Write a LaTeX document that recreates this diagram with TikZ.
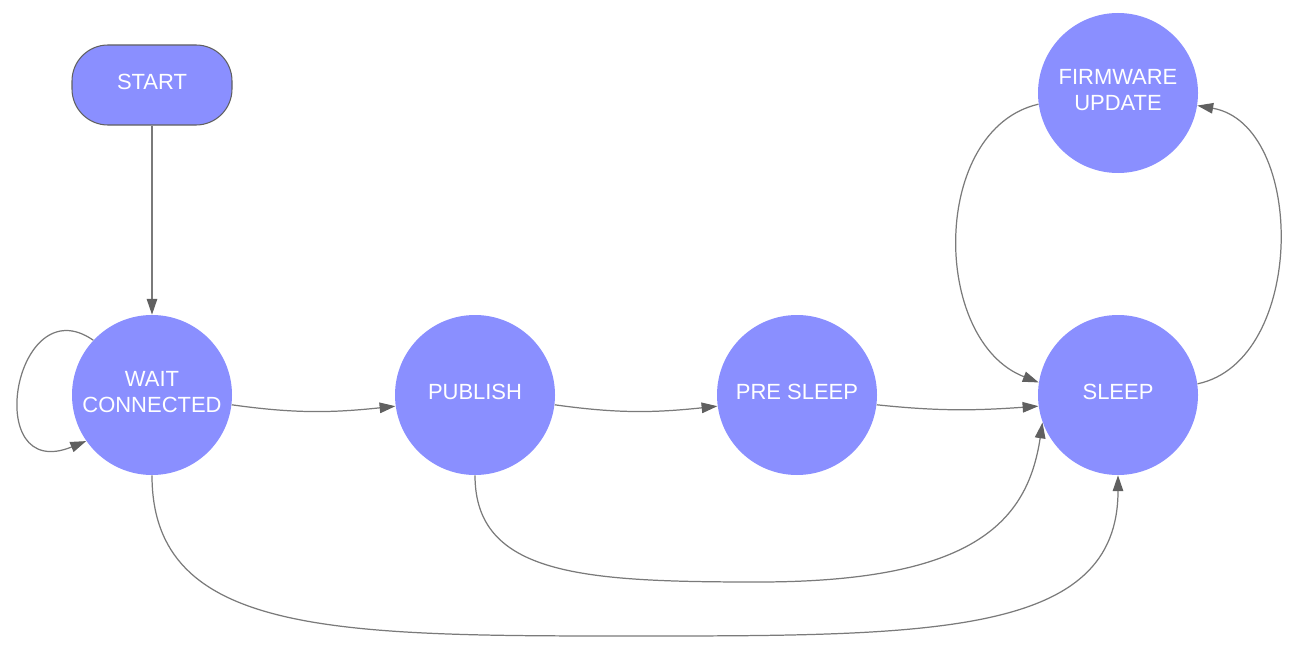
\documentclass[tikz,border=0pt]{standalone}
\usepackage{fontspec}
\setmainfont{Liberation Sans}
\usetikzlibrary{arrows.meta}
\definecolor{statefill}{HTML}{8A8FFF}
\definecolor{linegray}{HTML}{7A7A7A}
\definecolor{tipgray}{HTML}{606060}
\tikzset{
  statenode/.style={circle,fill=statefill,text=white,minimum size=3.2cm,inner sep=0pt,
    align=center,text depth=0.12cm,font=\fontsize{12.5}{14.4}\selectfont},
  startnode/.style={rectangle,rounded corners=0.72cm,draw=tipgray,line width=0.6pt,
    fill=statefill,text=white,minimum width=3.2cm,minimum height=1.6cm,
    text depth=0.12cm,font=\fontsize{12.5}{14.4}\selectfont},
  trans/.style={draw=linegray,line width=0.7pt,-{Triangle[length=9pt,width=6pt,color=tipgray]}}
}

\begin{document}
\begin{tikzpicture}
\useasboundingbox (0,0) rectangle (25.92,13.18);
%states
\node[startnode] (start) at (3.04,11.48) {START};
\node[statenode] (wait) at (3.04,5.28) {WAIT\\CONNECTED};
\node[statenode] (publish) at (9.5,5.28) {PUBLISH};
\node[statenode] (presleep) at (15.94,5.28) {PRE SLEEP};
\node[statenode] (sleep) at (22.36,5.28) {SLEEP};
\node[statenode] (fwupdate) at (22.36,11.32) {FIRMWARE\\UPDATE};
%
\coordinate (lowpub) at (15.16,1.54);
\coordinate (lowwait) at (12.7,0.46);
%transitions
\draw[trans] (start) -- (wait);
\draw[trans] (wait.137) .. controls +(-1.58,1.1) and +(-2.12,-0.86) .. (wait.215);
\draw[trans] (wait.-7) to[out=-8,in=186] (publish.188);
\draw[trans] (publish.-7) to[out=-8,in=186] (presleep.188);
\draw[trans] (presleep.-7) to[out=-6,in=184] (sleep.188);
%
\draw[trans] (fwupdate.188) .. controls +(-2.16,-0.5) and +(-2.16,0.84) .. (sleep.171);
\draw[trans] (sleep.8) .. controls +(2.18,0.46) and +(2.18,-0.38) .. (fwupdate.-9);
%
\draw[trans] (publish.south) .. controls +(0,-2.0) and +(-3.5,0) .. (lowpub)
  .. controls +(4.3,0) and +(-0.3,-2.0) .. (sleep.200);
\draw[trans] (wait.south) .. controls +(0,-3.2) and +(-6,0) .. (lowwait)
  .. controls +(6,0) and +(0,-3.2) .. (sleep.south);
\end{tikzpicture}
\end{document}
